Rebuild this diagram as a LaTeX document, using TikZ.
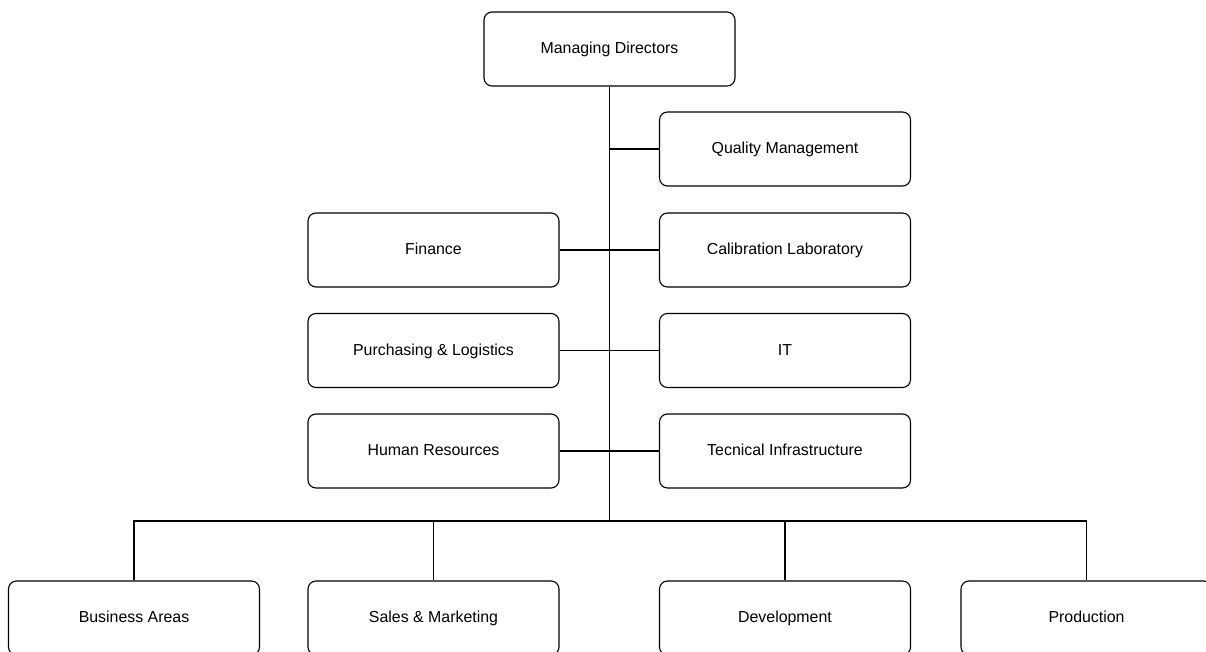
\documentclass[tikz,border=0pt]{standalone}
\usepackage{fontspec}
\setmainfont{Liberation Sans}
\begin{document}
\begin{tikzpicture}[x=1pt,y=-1pt,
  unit/.style={draw=black, line width=1.1pt, rounded corners=8pt,
    minimum width=251pt, minimum height=74pt, inner sep=0pt,
    text height=0.9em, text depth=0em,
    font=\fontsize{15.9}{18}\selectfont, text=black},
  link/.style={draw=black, line width=1.1pt}]
\useasboundingbox (0,0) rectangle (1206,652);

% top management
\node[unit] (md) at (609.5,49) {Managing Directors};

% staff units beside the trunk
\node[unit] (qm) at (785,149) {Quality Management};
\node[unit] (fin) at (433.5,250) {Finance};
\node[unit] (cal) at (785,250) {Calibration Laboratory};
\node[unit] (pur) at (433.5,350.5) {Purchasing \& Logistics};
\node[unit] (it) at (785,350.5) {IT};
\node[unit] (hr) at (433.5,451) {Human Resources};
\node[unit] (tec) at (785,451) {Tecnical Infrastructure};

% line departments
\node[unit] (ba) at (134,618) {Business Areas};
\node[unit] (sm) at (433.5,618) {Sales \& Marketing};
\node[unit] (dev) at (785,618) {Development};
\node[unit] (prod) at (1086.5,618) {Production};

% trunk and bus
\coordinate (bus) at (609.5,521);
\coordinate (qmj) at (609.5,149);
\draw[link] (md.south) -- (bus);
\draw[link] (qm.west) -- (qmj);
\draw[link] (fin.east) -- (cal.west);
\draw[link] (pur.east) -- (it.west);
\draw[link] (hr.east) -- (tec.west);
\draw[link] (ba.north) |- (bus) -| (prod.north);
\draw[link] (sm.north) -- (sm.north |- bus);
\draw[link] (dev.north) -- (dev.north |- bus);
\end{tikzpicture}
\end{document}
